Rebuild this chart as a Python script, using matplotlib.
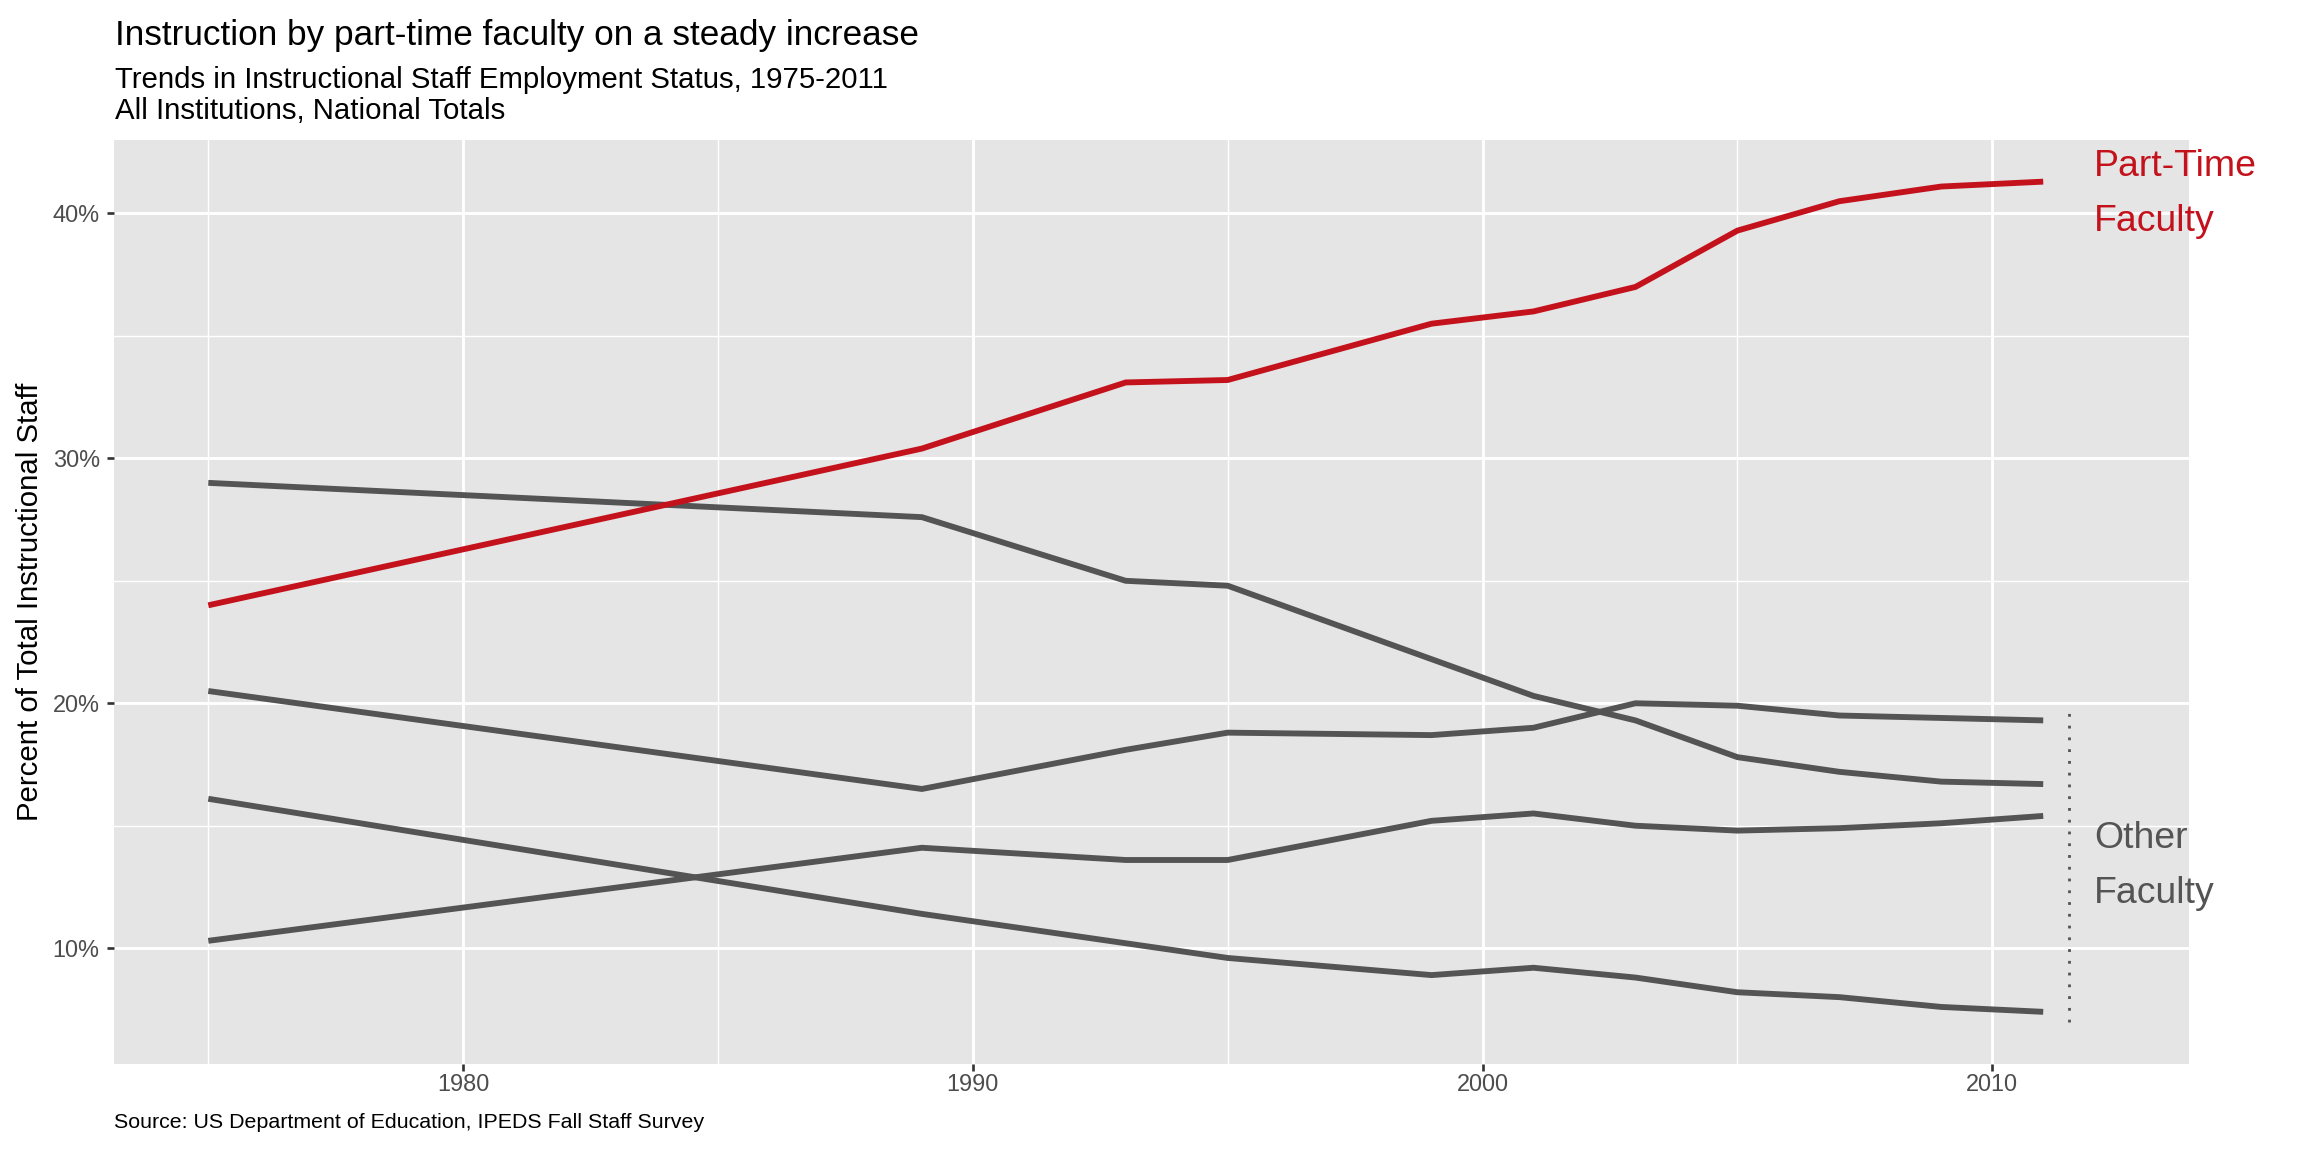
"""Instructional staff employment status, 1975-2011, in the grey ggplot look.

    python plot.py   ->  out.png
"""
import matplotlib

matplotlib.use("Agg")
import matplotlib.pyplot as plt
from matplotlib.ticker import FixedLocator, FuncFormatter

plt.rcParams["font.family"] = ["Liberation Sans", "DejaVu Sans"]

YEARS = [1975, 1989, 1993, 1995, 1999, 2001, 2003, 2005, 2007, 2009, 2011]

# percent of total instructional staff
PART_TIME = [24.0, 30.4, 33.1, 33.2, 35.5, 36.0, 37.0, 39.3, 40.5, 41.1, 41.3]
FT_TENURED = [29.0, 27.6, 25.0, 24.8, 21.8, 20.3, 19.3, 17.8, 17.2, 16.8, 16.7]
GRAD_STUDENTS = [20.5, 16.5, 18.1, 18.8, 18.7, 19.0, 20.0, 19.9, 19.5, 19.4, 19.3]
FT_NON_TENURE = [10.3, 14.1, 13.6, 13.6, 15.2, 15.5, 15.0, 14.8, 14.9, 15.1, 15.4]
FT_TENURE_TRACK = [16.1, 11.4, 10.2, 9.6, 8.9, 9.2, 8.8, 8.2, 8.0, 7.6, 7.4]

OTHERS = [FT_TENURED, GRAD_STUDENTS, FT_NON_TENURE, FT_TENURE_TRACK]

X_TICKS = [1980, 1990, 2000, 2010]
X_MINOR = [1975, 1985, 1995, 2005]
Y_TICKS = [10, 20, 30, 40]
Y_MINOR = [15, 25, 35]

BRACKET_X = 2011.5
BRACKET_Y = (7.0, 19.6)
LABEL_X = 2012.0
PART_LABEL_Y = 40.8
OTHER_LABEL_Y = 13.35

RED = "#C4121C"
GREY_LINE = "#545454"
PANEL = "#E5E5E5"
TICK_TEXT = "#4D4D4D"


def main() -> None:
    fig = plt.figure(figsize=(12, 6), dpi=192)
    ax = fig.add_axes([0.04948, 0.07639, 0.9006, 0.80208])
    ax.set_facecolor(PANEL)
    for s in ax.spines.values():
        s.set_visible(False)

    ax.set_xlim(1973.15, 2013.86)
    ax.set_ylim(5.27, 43.0)

    ax.xaxis.set_major_locator(FixedLocator(X_TICKS))
    ax.xaxis.set_minor_locator(FixedLocator(X_MINOR))
    ax.yaxis.set_major_locator(FixedLocator(Y_TICKS))
    ax.yaxis.set_minor_locator(FixedLocator(Y_MINOR))
    ax.yaxis.set_major_formatter(FuncFormatter(lambda v, _: f"{v:.0f}%"))

    ax.grid(which="major", color="white", linewidth=1.07)
    ax.grid(which="minor", color="white", linewidth=0.53)
    ax.set_axisbelow(True)
    ax.tick_params(which="major", length=2.75, width=1.0, color="#333333",
                   labelcolor=TICK_TEXT, labelsize=8.8)
    ax.tick_params(axis="x", pad=0.8)
    ax.tick_params(axis="y", pad=2.6)
    ax.tick_params(which="minor", length=0)

    for series in OTHERS:
        ax.plot(YEARS, series, color=GREY_LINE, linewidth=2.2,
                solid_capstyle="butt", solid_joinstyle="round")
    ax.plot(YEARS, PART_TIME, color=RED, linewidth=2.2,
            solid_capstyle="butt", solid_joinstyle="round")

    ax.plot([BRACKET_X, BRACKET_X], BRACKET_Y, color=GREY_LINE, linewidth=1.05,
            linestyle=(0, (1, 3.2)), dash_capstyle="butt")

    ax.text(LABEL_X, PART_LABEL_Y, "Part-Time\nFaculty", color=RED, fontsize=14,
            ha="left", va="center", linespacing=1.72, clip_on=False)
    ax.text(LABEL_X, OTHER_LABEL_Y, "Other\nFaculty", color=GREY_LINE, fontsize=14,
            ha="left", va="center", linespacing=1.72, clip_on=False)

    fig.text(0.0499, 0.9609, "Instruction by part-time faculty on a steady increase",
             fontsize=13.2, va="baseline", ha="left")
    fig.text(0.0499, 0.92361, "Trends in Instructional Staff Employment Status, 1975-2011",
             fontsize=11, va="baseline", ha="left")
    fig.text(0.0499, 0.8967, "All Institutions, National Totals",
             fontsize=11, va="baseline", ha="left")
    fig.text(0.0495, 0.02083, "Source: US Department of Education, IPEDS Fall Staff Survey",
             fontsize=8.0, va="baseline", ha="left")
    fig.text(0.0130, 0.4774, "Percent of Total Instructional Staff", fontsize=11,
             rotation=90, ha="center", va="center")

    fig.savefig("out.png", dpi=192)
    plt.close(fig)


if __name__ == "__main__":
    main()
